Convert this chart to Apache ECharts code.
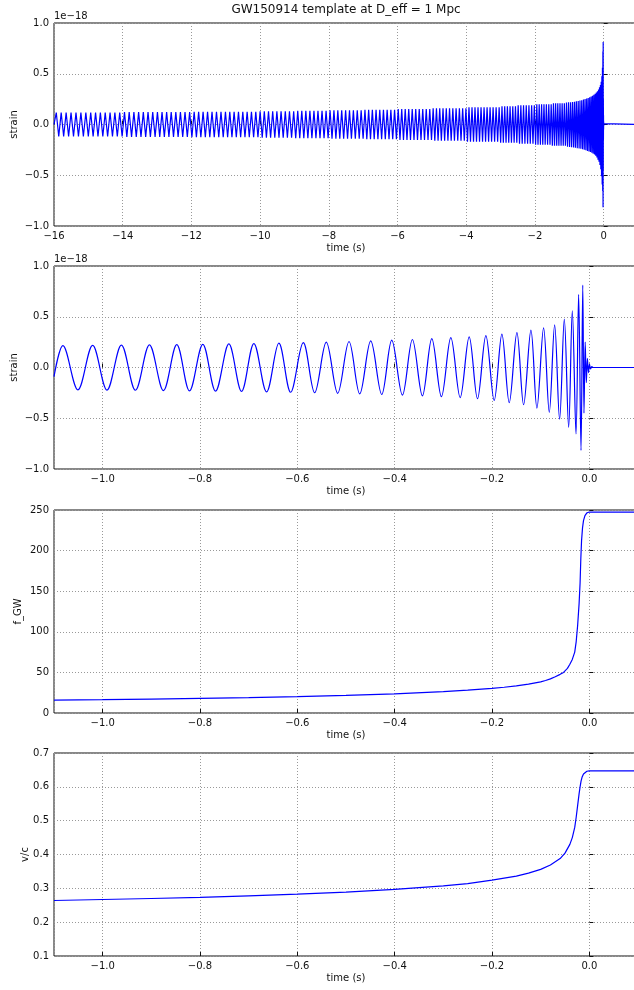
<!DOCTYPE html>
<html>
<head>
<meta charset="utf-8">
<script src="https://cdn.jsdelivr.net/npm/echarts@6/dist/echarts.min.js"></script>
<style>
  html, body { margin: 0; padding: 0; background: #fff; }
  #chart { width: 634px; height: 990px; }
</style>
</head>
<body>
<div id="chart"></div>
<script>
// strain extrema [time (s), strain in units of 1e-18], inspiral part (-16 s .. -1.1 s)
const inspiralStrain = [
  [-16.0,0],
  [-15.934,0.118],[-15.862,-0.118],[-15.791,0.118],[-15.719,-0.118],[-15.647,0.118],[-15.575,-0.118],[-15.504,0.118],[-15.432,-0.118],[-15.36,0.118],[-15.288,-0.118],[-15.217,0.118],[-15.145,-0.118],[-15.073,0.118],[-15.001,-0.118],
  [-14.931,0.118],[-14.861,-0.118],[-14.79,0.118],[-14.72,-0.118],[-14.65,0.118],[-14.579,-0.118],[-14.509,0.118],[-14.439,-0.118],[-14.368,0.118],[-14.298,-0.118],[-14.228,0.118],[-14.157,-0.118],[-14.087,0.118],[-14.017,-0.118],
  [-13.948,0.122],[-13.88,-0.122],[-13.811,0.122],[-13.742,-0.122],[-13.674,0.122],[-13.605,-0.122],[-13.537,0.122],[-13.468,-0.122],[-13.4,0.122],[-13.331,-0.122],[-13.263,0.122],[-13.194,-0.122],[-13.126,0.122],[-13.057,-0.122],
  [-12.989,0.122],[-12.922,-0.122],[-12.855,0.122],[-12.788,-0.122],[-12.721,0.122],[-12.655,-0.122],[-12.588,0.122],[-12.521,-0.122],[-12.454,0.122],[-12.387,-0.122],[-12.32,0.122],[-12.253,-0.122],[-12.186,0.122],[-12.119,-0.122],[-12.052,0.122],
  [-11.986,-0.126],[-11.92,0.126],[-11.855,-0.126],[-11.79,0.126],[-11.725,-0.126],[-11.66,0.126],[-11.595,-0.126],[-11.53,0.126],[-11.465,-0.126],[-11.4,0.126],[-11.335,-0.126],[-11.27,0.126],[-11.204,-0.126],[-11.139,0.126],[-11.074,-0.126],[-11.009,0.126],
  [-10.946,-0.126],[-10.883,0.126],[-10.82,-0.126],[-10.757,0.126],[-10.693,-0.126],[-10.63,0.126],[-10.567,-0.126],[-10.504,0.126],[-10.441,-0.126],[-10.378,0.126],[-10.315,-0.126],[-10.252,0.126],[-10.189,-0.126],[-10.126,0.126],[-10.063,-0.126],
  [-10.0,0.13],[-9.939,-0.13],[-9.878,0.13],[-9.817,-0.13],[-9.756,0.13],[-9.695,-0.13],[-9.634,0.13],[-9.573,-0.13],[-9.512,0.13],[-9.451,-0.13],[-9.39,0.13],[-9.328,-0.13],[-9.267,0.13],[-9.206,-0.13],[-9.145,0.13],[-9.084,-0.13],[-9.023,0.13],
  [-8.964,-0.135],[-8.905,0.135],[-8.846,-0.135],[-8.787,0.135],[-8.728,-0.135],[-8.669,0.135],[-8.61,-0.135],[-8.551,0.135],[-8.492,-0.135],[-8.433,0.135],[-8.375,-0.135],[-8.316,0.135],[-8.257,-0.135],[-8.198,0.135],[-8.139,-0.135],[-8.08,0.135],[-8.021,-0.135],
  [-7.964,0.14],[-7.907,-0.14],[-7.851,0.14],[-7.794,-0.14],[-7.738,0.14],[-7.681,-0.14],[-7.625,0.14],[-7.568,-0.14],[-7.511,0.14],[-7.455,-0.14],[-7.398,0.14],[-7.342,-0.14],[-7.285,0.14],[-7.229,-0.14],[-7.172,0.14],[-7.115,-0.14],[-7.059,0.14],[-7.002,-0.14],
  [-6.948,0.145],[-6.894,-0.145],[-6.841,0.145],[-6.787,-0.145],[-6.733,0.145],[-6.679,-0.145],[-6.625,0.145],[-6.571,-0.145],[-6.517,0.145],[-6.463,-0.145],[-6.41,0.145],[-6.356,-0.145],[-6.302,0.145],[-6.248,-0.145],[-6.194,0.145],[-6.14,-0.145],[-6.086,0.145],[-6.032,-0.145],
  [-5.98,0.152],[-5.929,-0.152],[-5.878,0.152],[-5.827,-0.152],[-5.776,0.152],[-5.725,-0.152],[-5.674,0.152],[-5.623,-0.152],[-5.572,0.152],[-5.521,-0.152],[-5.47,0.152],[-5.419,-0.152],[-5.368,0.152],[-5.317,-0.152],[-5.266,0.152],[-5.215,-0.152],[-5.164,0.152],[-5.113,-0.152],[-5.062,0.152],[-5.011,-0.152],
  [-4.963,0.16],[-4.915,-0.16],[-4.867,0.16],[-4.82,-0.16],[-4.772,0.16],[-4.724,-0.16],[-4.676,0.16],[-4.629,-0.16],[-4.581,0.16],[-4.533,-0.16],[-4.486,0.16],[-4.438,-0.16],[-4.39,0.16],[-4.343,-0.16],[-4.295,0.16],[-4.247,-0.16],[-4.199,0.16],[-4.152,-0.16],[-4.104,0.16],[-4.056,-0.16],[-4.009,0.16],
  [-3.964,-0.17],[-3.92,0.17],[-3.876,-0.17],[-3.832,0.17],[-3.788,-0.17],[-3.745,0.17],[-3.701,-0.17],[-3.657,0.17],[-3.613,-0.17],[-3.569,0.17],[-3.525,-0.17],[-3.481,0.17],[-3.437,-0.17],[-3.393,0.17],[-3.349,-0.17],[-3.306,0.17],[-3.262,-0.17],[-3.218,0.17],[-3.174,-0.17],[-3.13,0.17],[-3.086,-0.17],[-3.042,0.17],
  [-2.998,-0.18],[-2.959,0.18],[-2.92,-0.18],[-2.88,0.18],[-2.841,-0.18],[-2.802,0.18],[-2.763,-0.18],[-2.724,0.18],[-2.684,-0.18],[-2.645,0.18],[-2.606,-0.18],[-2.567,0.18],[-2.528,-0.18],
  [-2.488,0.19],[-2.449,-0.19],[-2.41,0.19],[-2.371,-0.19],[-2.332,0.19],[-2.292,-0.19],[-2.253,0.19],[-2.214,-0.19],[-2.175,0.19],[-2.136,-0.19],[-2.096,0.19],[-2.057,-0.19],[-2.018,0.19],
  [-1.981,-0.2],[-1.946,0.2],[-1.911,-0.2],[-1.876,0.2],[-1.841,-0.2],[-1.806,0.2],[-1.772,-0.2],[-1.737,0.2],[-1.702,-0.2],[-1.667,0.2],[-1.632,-0.2],[-1.597,0.2],[-1.562,-0.2],[-1.527,0.2],
  [-1.493,-0.21],[-1.461,0.21],[-1.43,-0.21],[-1.398,0.21],[-1.366,-0.21],[-1.335,0.21],[-1.303,-0.21],[-1.271,0.21],[-1.239,-0.21],[-1.208,0.21],[-1.176,-0.21],[-1.144,0.21],[-1.113,-0.21]
];

// strain extrema [time (s), strain in units of 1e-18], last 1.1 s, merger and ringdown
const mergerStrain = [
  [-1.1,-0.09],[-1.0817,0.216],[-1.0508,-0.22],[-1.0206,0.218],[-0.9911,-0.222],[-0.9615,0.22],[-0.9327,-0.224],[-0.9039,0.222],
  [-0.8751,-0.227],[-0.8477,0.225],[-0.8216,-0.23],[-0.7942,0.228],[-0.768,-0.233],[-0.7407,0.232],[-0.7146,-0.236],[-0.6893,0.236],
  [-0.6632,-0.24],[-0.6379,0.24],[-0.6138,-0.244],[-0.5878,0.245],[-0.5644,-0.249],[-0.5405,0.25],[-0.5171,-0.254],[-0.4938,0.256],
  [-0.4718,-0.26],[-0.4492,0.262],[-0.4266,-0.266],[-0.406,0.269],[-0.3841,-0.272],[-0.3636,0.276],[-0.343,-0.279],[-0.3237,0.284],
  [-0.3039,-0.287],[-0.2846,0.294],[-0.2654,-0.296],[-0.2469,0.302],[-0.2298,-0.308],[-0.2126,0.315],[-0.1955,-0.324],[-0.1797,0.328],
  [-0.1646,-0.347],[-0.1488,0.344],[-0.1351,-0.367],[-0.12,0.368],[-0.1077,-0.4],[-0.094,0.39],[-0.0823,-0.442],[-0.0713,0.42],
  [-0.0611,-0.51],[-0.0514,0.476],[-0.0425,-0.59],[-0.035,0.558],[-0.0274,-0.655],[-0.022,0.72],[-0.0171,-0.816],[-0.0135,0.813],
  [-0.011,-0.45],[-0.0085,0.25],[-0.0062,-0.15],[-0.004,0.09],[-0.0018,-0.05],[0.0004,0.03],[0.0026,-0.015],[0.005,0.008],
  [0.008,0],[1.0,0]
];

// GW frequency (Hz)
const fgwTime  = [-1.1, -1.0, -0.9, -0.8, -0.7, -0.6, -0.5, -0.4, -0.3, -0.25, -0.2, -0.175, -0.15, -0.125, -0.1, -0.09, -0.08, -0.07, -0.06, -0.053, -0.045, -0.04, -0.035, -0.03, -0.027, -0.024, -0.021, -0.019, -0.0175, -0.016, -0.014, -0.012, -0.009, -0.005, 0.0, 0.1];
const fgwValue = [15.8, 16.4, 17.1, 17.9, 18.9, 20.1, 21.6, 23.6, 26.4, 28.1, 30.3, 31.7, 33.4, 35.5, 38.3, 40, 42, 44.6, 47.6, 50, 55, 60, 66, 75, 88, 108, 135, 160, 190, 212, 228, 237, 243, 246.5, 247.5, 247.5];

// orbital speed v/c
const vcTime  = [-1.1, -1.0, -0.9, -0.8, -0.7, -0.6, -0.5, -0.4, -0.3, -0.25, -0.2, -0.15, -0.125, -0.1, -0.08, -0.06, -0.05, -0.04, -0.035, -0.03, -0.027, -0.024, -0.021, -0.019, -0.017, -0.015, -0.012, -0.009, -0.005, 0.0, 0.1];
const vcValue = [0.264, 0.267, 0.27, 0.273, 0.278, 0.283, 0.289, 0.297, 0.307, 0.314, 0.324, 0.336, 0.345, 0.356, 0.369, 0.388, 0.404, 0.43, 0.45, 0.48, 0.51, 0.545, 0.58, 0.6, 0.617, 0.628, 0.638, 0.643, 0.646, 0.647, 0.647];

// tick labels
const longTimeTicks = [-16, -14, -12, -10, -8, -6, -4, -2, 0];
const shortTimeTicks = [-1.0, -0.8, -0.6, -0.4, -0.2, 0.0];
const strainTicks = [-1.0, -0.5, 0.0, 0.5, 1.0];
const fgwTicks = [0, 50, 100, 150, 200, 250];
const vcTicks = [0.1, 0.2, 0.3, 0.4, 0.5, 0.6, 0.7];

const font = 'DejaVu Sans';
const textColor = '#111';
const blue = '#0000ff';

function minus(s) {
  return String(s).replace('-', '\u2212');
}
function fixed1(v) {
  if (Math.abs(v) < 1e-9) v = 0;
  return minus(v.toFixed(1));
}

const tops = [23, 266, 510, 753];
const grids = tops.map(function (t) {
  return {
    left: 54, width: 584, top: t, height: 203,
    containLabel: false, outerBoundsMode: 'none',
    show: true, borderColor: '#111', borderWidth: 1, backgroundColor: 'rgba(0,0,0,0)'
  };
});

function baseAxis(idx) {
  return {
    type: 'value',
    gridIndex: idx,
    nameLocation: 'middle',
    nameMoveOverlap: false,
    nameTextStyle: { fontFamily: font, fontSize: 10, color: textColor },
    axisLine: { show: false },
    axisTick: { show: true, inside: true, length: 4, lineStyle: { color: '#111', width: 1 } },
    axisLabel: { fontFamily: font, fontSize: 10, color: textColor, margin: 5 },
    splitLine: { show: true, lineStyle: { color: '#999', width: 1, type: [1, 2] } }
  };
}

function timeAxis(idx, isLong) {
  const a = baseAxis(idx);
  a.name = 'time (s)';
  a.nameGap = 17;
  if (isLong) {
    a.min = longTimeTicks[0];
    a.max = 1;
    a.interval = longTimeTicks[1] - longTimeTicks[0];
    a.axisLabel.formatter = function (v) { return minus(v); };
  } else {
    a.min = -1.1;
    a.max = 0.1;
    a.splitNumber = shortTimeTicks.length;
    a.axisLabel.formatter = function (v) {
      return shortTimeTicks.some(function (t) { return Math.abs(t - v) < 1e-6; }) ? fixed1(v) : '';
    };
  }
  a.axisLabel.showMaxLabel = false;
  a.axisLabel.showMinLabel = isLong;
  return a;
}

function valueAxis(idx, name, gap, ticks, fmt) {
  const a = baseAxis(idx);
  a.name = name;
  a.nameGap = gap;
  a.nameRotate = 90;
  a.min = ticks[0];
  a.max = ticks[ticks.length - 1];
  a.interval = ticks[1] - ticks[0];
  a.axisLabel.formatter = fmt;
  return a;
}

function lineSeries(idx, data, smooth) {
  return {
    type: 'line',
    xAxisIndex: idx,
    yAxisIndex: idx,
    data: data,
    symbol: 'none',
    smooth: smooth || false,
    lineStyle: { color: blue, width: 1.2 },
    silent: true
  };
}

const chart = echarts.init(document.getElementById('chart'));
const option = {
  animation: false,
  backgroundColor: '#fff',
  grid: grids,
  xAxis: [timeAxis(0, true), timeAxis(1, false), timeAxis(2, false), timeAxis(3, false)],
  yAxis: [
    valueAxis(0, 'strain', 35, strainTicks, fixed1),
    valueAxis(1, 'strain', 35, strainTicks, fixed1),
    valueAxis(2, 'f_GW', 31, fgwTicks, function (v) { return String(v); }),
    valueAxis(3, 'v/c', 24, vcTicks, fixed1)
  ],
  series: [
    lineSeries(0, inspiralStrain.concat(mergerStrain)),
    lineSeries(1, mergerStrain, 0.35),
    lineSeries(2, fgwTime.map(function (t, i) { return [t, fgwValue[i]]; })),
    lineSeries(3, vcTime.map(function (t, i) { return [t, vcValue[i]]; }))
  ],
  graphic: [
    { type: 'text', x: 346, y: 10, style: { text: 'GW150914 template at D_eff = 1 Mpc', font: '12px "DejaVu Sans"', fill: textColor, align: 'center', verticalAlign: 'middle' } },
    { type: 'text', x: 54, y: 16, style: { text: '1e\u221218', font: '10px "DejaVu Sans"', fill: textColor, align: 'left', verticalAlign: 'middle' } },
    { type: 'text', x: 54, y: 259, style: { text: '1e\u221218', font: '10px "DejaVu Sans"', fill: textColor, align: 'left', verticalAlign: 'middle' } }
  ]
};
chart.setOption(option);
</script>
</body>
</html>
